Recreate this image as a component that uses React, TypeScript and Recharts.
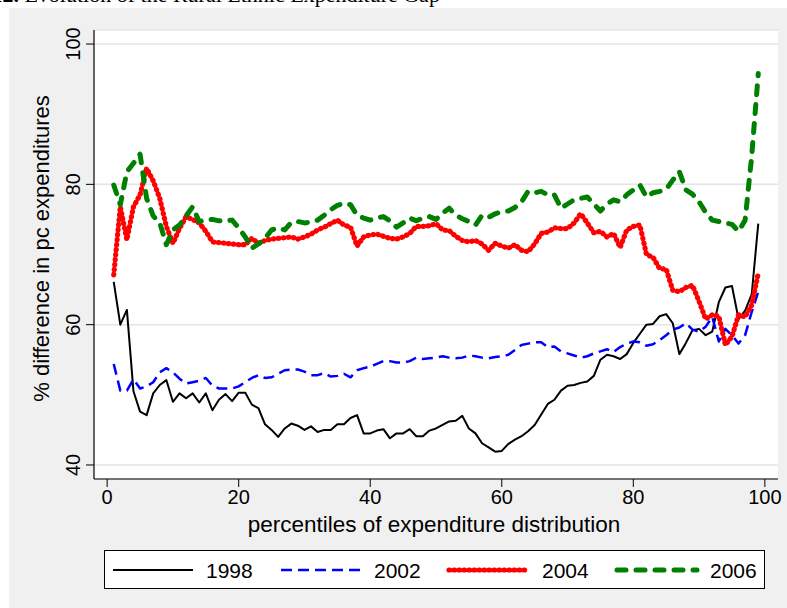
import React from "react";
import { CartesianGrid, Label, Line, LineChart, XAxis, YAxis } from "recharts";

// percentile 1..99
const PERCENTILES = Array.from({ length: 99 }, (_, i) => i + 1);

const GAP_1998 = [
  66.1, 60.0, 62.1, 50.5, 47.6, 47.1, 50.2, 51.4, 52.1, 49.0,
  50.2, 49.5, 50.2, 48.9, 50.2, 47.8, 49.3, 50.1, 49.1, 50.3,
  50.3, 48.6, 48.1, 45.8, 45.0, 44.0, 45.2, 45.9, 45.6, 45.0,
  45.5, 44.7, 45.0, 45.0, 45.8, 45.8, 46.7, 47.1, 44.5, 44.5,
  44.9, 45.1, 43.8, 44.5, 44.5, 45.1, 44.1, 44.1, 44.9, 45.2,
  45.7, 46.2, 46.3, 47.0, 45.2, 44.5, 43.1, 42.5, 41.9, 42.0,
  43.0, 43.6, 44.1, 44.8, 45.7, 47.2, 48.7, 49.3, 50.6, 51.3,
  51.4, 51.7, 51.9, 52.7, 55.0, 55.7, 55.5, 55.1, 55.8, 57.4,
  58.7, 60.0, 60.1, 61.2, 61.5, 60.2, 55.8, 57.4, 59.2, 59.4,
  58.5, 59.0, 63.2, 65.3, 65.5, 60.8, 62.0, 64.3, 74.4,
];

const GAP_2002 = [
  54.4, 50.6, 50.6, 52.2, 50.9, 51.2, 51.8, 53.2, 53.8, 53.2,
  52.3, 51.6, 51.8, 52.0, 52.4, 51.3, 50.9, 50.9, 50.9, 51.2,
  51.8, 52.4, 52.8, 52.4, 52.5, 53.0, 53.5, 53.6, 53.6, 53.3,
  52.8, 52.8, 53.1, 52.6, 52.7, 53.0, 52.5, 53.5, 53.8, 54.0,
  54.4, 54.8, 54.8, 54.6, 54.6, 54.8, 55.3, 55.1, 55.2, 55.3,
  55.5, 55.3, 55.2, 55.3, 55.6, 55.5, 55.3, 55.2, 55.4, 55.5,
  55.7, 56.4, 57.1, 57.3, 57.5, 57.5, 56.8, 56.9, 56.2, 55.9,
  55.6, 55.3, 55.5, 55.9, 56.2, 56.5, 56.1, 56.8, 57.3, 57.6,
  57.5, 57.0, 57.2, 57.8, 58.5, 59.3, 59.6, 60.2, 59.3, 59.0,
  59.7, 61.1, 57.6, 59.4, 58.5, 57.3, 58.5, 61.8, 64.7,
];

const GAP_2004 = [
  67.1, 76.8, 72.1, 76.8, 78.5, 82.3, 80.5, 78.0, 74.0, 71.6,
  73.7, 75.4, 75.0, 74.5, 73.3, 71.8, 71.7, 71.6, 71.5, 71.4,
  71.4, 72.3, 71.6, 72.0, 72.2, 72.3, 72.4, 72.5, 72.2, 72.5,
  72.9, 73.5, 73.9, 74.4, 74.9, 74.2, 73.9, 71.2, 72.5, 72.8,
  72.9, 72.6, 72.3, 72.2, 72.5, 73.0, 74.0, 74.0, 74.1, 74.4,
  73.5, 73.4, 72.6, 72.0, 71.8, 72.0, 71.5, 70.6, 71.6, 71.2,
  70.9, 71.4, 70.6, 70.4, 71.5, 73.0, 73.2, 73.8, 73.7, 73.7,
  74.5, 75.8, 74.5, 73.1, 73.3, 72.5, 73.0, 71.0, 73.5, 74.0,
  74.2, 70.0, 69.6, 68.0, 67.9, 64.9, 64.7, 65.3, 65.6, 63.3,
  60.8, 61.4, 61.2, 57.1, 58.3, 61.4, 61.1, 62.8, 67.3,
];

const GAP_2006 = [
  79.9, 77.1, 81.8, 83.0, 84.3, 78.0, 75.5, 74.5, 71.4, 73.5,
  74.2, 75.5, 76.8, 74.7, 74.9, 75.0, 74.8, 74.8, 74.9, 73.8,
  72.5, 70.9, 71.5, 72.3, 73.5, 73.8, 73.5, 74.6, 74.7, 74.5,
  74.6, 74.9, 75.6, 76.4, 77.0, 77.3, 77.1, 75.6, 75.2, 74.9,
  75.2, 75.4, 74.8, 73.9, 74.5, 75.2, 74.8, 75.2, 75.4, 75.0,
  75.9, 76.6, 75.6, 75.1, 74.7, 74.2, 75.6, 75.3, 75.8, 76.1,
  76.2, 76.7, 77.5, 79.0, 78.8, 79.0, 78.5, 78.5, 76.6, 77.2,
  77.8, 78.0, 78.2, 77.2, 76.2, 77.2, 77.8, 77.5, 78.5, 79.2,
  79.9, 78.2, 78.8, 79.0, 79.3, 80.6, 81.8, 79.2, 78.6, 77.5,
  76.0, 74.9, 74.7, 74.5, 74.3, 73.3, 74.9, 84.0, 95.8,
];

const X_TICKS = [0, 20, 40, 60, 80, 100];
const Y_TICKS = [40, 60, 80, 100];

const SERIES = [
  { key: "y1998", name: "1998", color: "#000000", width: 2, dash: undefined, cap: "butt" },
  { key: "y2002", name: "2002", color: "#0000ff", width: 2.5, dash: "11 6", cap: "butt" },
  { key: "y2004", name: "2004", color: "#ff0000", width: 5.2, dash: "0.6 4.4", cap: "round" },
  { key: "y2006", name: "2006", color: "#008000", width: 5, dash: "9 10", cap: "round" },
] as const;

const data = PERCENTILES.map((p, i) => ({
  pct: p,
  y1998: GAP_1998[i],
  y2002: GAP_2002[i],
  y2004: GAP_2004[i],
  y2006: GAP_2006[i],
}));

const FONT = "'Liberation Sans', Arial, Helvetica, sans-serif";

const YTick = (props: any) => {
  const { x, y, payload } = props;
  return (
    <text
      x={x}
      y={y}
      transform={`rotate(-90, ${x}, ${y})`}
      textAnchor="middle"
      fontSize={20}
      fontFamily={FONT}
      fill="#000"
    >
      {payload.value}
    </text>
  );
};

const XTick = (props: any) => {
  const { x, y, payload } = props;
  return (
    <text x={x} y={y + 15} textAnchor="middle" fontSize={20} fontFamily={FONT} fill="#000">
      {payload.value}
    </text>
  );
};

const YTitle = (props: any) => {
  const vb = props.viewBox;
  const cx = 40;
  const cy = vb.y + vb.height / 2 - 6;
  return (
    <text
      x={cx}
      y={cy}
      transform={`rotate(-90, ${cx}, ${cy})`}
      textAnchor="middle"
      fontSize={22}
      fontFamily={FONT}
      fill="#000"
    >
      % difference in pc expenditures
    </text>
  );
};

const XTitle = (props: any) => {
  const vb = props.viewBox;
  return (
    <text
      x={vb.x + vb.width / 2 - 2}
      y={524}
      textAnchor="middle"
      fontSize={22.5}
      fontFamily={FONT}
      fill="#000"
    >
      percentiles of expenditure distribution
    </text>
  );
};

export default function App() {
  return (
    <div style={{ position: "absolute", left: 0, top: 0, width: 787, height: 608, overflow: "hidden", background: "#fff" }}>
      <div
        style={{
          position: "absolute",
          left: -76,
          top: -16,
          whiteSpace: "nowrap",
          fontFamily: "'Liberation Serif', 'Times New Roman', serif",
          fontSize: 22,
          lineHeight: "22px",
        }}
      >
        <b>Figure 12.</b> Evolution of the Rural Ethnic Expenditure Gap
      </div>
      <div style={{ position: "absolute", left: 9, top: 8, width: 778, height: 600, background: "#f0f0f0" }}>
        <LineChart width={778} height={600} data={data} margin={{ top: 22, right: 9, bottom: 0, left: 0 }}>
          <CartesianGrid vertical={false} stroke="#e4e4e4" strokeWidth={1.5} fill="#ffffff" fillOpacity={1} />
          <XAxis
            dataKey="pct"
            type="number"
            domain={[-2, 102]}
            ticks={X_TICKS}
            height={129}
            tickSize={8}
            tick={<XTick />}
            stroke="#000"
            axisLine={{ stroke: "#000", strokeWidth: 1.2 }}
            tickLine={{ stroke: "#000" }}
          >
            <Label content={<XTitle />} />
          </XAxis>
          <YAxis
            type="number"
            domain={[38, 102]}
            ticks={Y_TICKS}
            width={85}
            tickSize={8}
            tickMargin={6}
            tick={<YTick />}
            axisLine={{ stroke: "#000", strokeWidth: 1.2 }}
            tickLine={{ stroke: "#000" }}
          >
            <Label content={<YTitle />} />
          </YAxis>
          {SERIES.map((s) => (
            <Line
              key={s.key}
              dataKey={s.key}
              name={s.name}
              type="linear"
              stroke={s.color}
              strokeWidth={s.width}
              strokeDasharray={s.dash}
              strokeLinecap={s.cap}
              strokeLinejoin="round"
              dot={false}
              activeDot={false}
              isAnimationActive={false}
            />
          ))}
        </LineChart>
        <div
          style={{
            position: "absolute",
            left: 95,
            top: 542,
            width: 659,
            height: 37,
            background: "#fff",
            border: "1px solid #000",
          }}
        >
          <svg width={659} height={37}>
            {SERIES.map((s, i) => {
              const x0 = 8 + i * 168;
              return (
                <g key={s.key}>
                  <line
                    x1={x0}
                    x2={x0 + 80}
                    y1={19}
                    y2={19}
                    stroke={s.color}
                    strokeWidth={s.width}
                    strokeDasharray={s.dash}
                    strokeLinecap={s.cap}
                  />
                  <text x={x0 + 93} y={27} fontSize={21} fontFamily={FONT} fill="#000">
                    {s.name}
                  </text>
                </g>
              );
            })}
          </svg>
        </div>
      </div>
    </div>
  );
}
